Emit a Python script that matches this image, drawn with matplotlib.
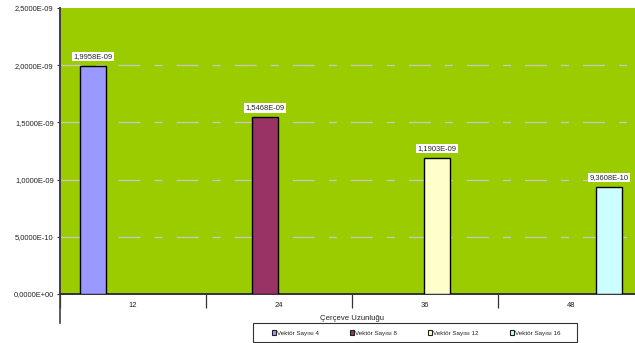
import matplotlib
matplotlib.use('Agg')
import matplotlib.pyplot as plt
from matplotlib.patches import Patch, Rectangle
from matplotlib.lines import Line2D
import numpy as np

# data
categories = ['12', '24', '36', '48']
series_names = ['Vektör Sayısı 4', 'Vektör Sayısı 8', 'Vektör Sayısı 12', 'Vektör Sayısı 16']
series_values = [
    [1.9958e-09, np.nan, np.nan, np.nan],
    [np.nan, 1.5468e-09, np.nan, np.nan],
    [np.nan, np.nan, 1.1903e-09, np.nan],
    [np.nan, np.nan, np.nan, 9.3608e-10],
]
data_labels = ['1,9958E-09', '1,5468E-09', '1,1903E-09', '9,3608E-10']
y_ticks = [0, 5e-10, 1e-09, 1.5e-09, 2e-09, 2.5e-09]
y_ticklabels = ['0,0000E+00', '5,0000E-10', '1,0000E-09', '1,5000E-09', '2,0000E-09', '2,5000E-09']
x_title = 'Çerçeve Uzunluğu'

colors = ['#9999FF', '#993366', '#FFFFCC', '#CCFFFF']

plt.rcParams['font.family'] = ['Liberation Sans', 'DejaVu Sans']
plt.rcParams['lines.scale_dashes'] = False

W, H = 635, 343
fig = plt.figure(figsize=(W / 100, H / 100), dpi=100)
# plot area runs past the right edge of the image
ax = fig.add_axes([60 / W, 1 - 294 / H, 584 / W, 286 / H])
ax.set_facecolor('#9ACC00')

bar_w = 26 / 146
gap = 20 / 146
x = np.arange(len(categories))
for i, vals in enumerate(series_values):
    ax.bar(x + gap + i * bar_w, vals, width=bar_w, align='edge',
           color=colors[i], edgecolor='black', linewidth=1.0, zorder=3)

# data labels above the bars
for i, vals in enumerate(series_values):
    for j, v in enumerate(vals):
        if np.isnan(v):
            continue
        ax.annotate(data_labels[i], (j + gap + (i + 0.5) * bar_w, v),
                    xytext=(0, 4), textcoords='offset points',
                    ha='center', va='bottom', fontsize=5.4, color='#222222',
                    bbox=dict(boxstyle='square,pad=0.15', fc='white', ec='none'),
                    zorder=5)

ax.set_xlim(0, 4)
ax.set_ylim(0, 2.5e-09)

# gridlines
for yt in y_ticks[1:-1]:
    ax.add_line(Line2D([0, 4], [yt, yt], color='#C8C8C8', linewidth=0.9,
                       linestyle=(0, (15.8, 10.1, 5.8, 10.1)), zorder=1))

ax.set_yticks(y_ticks)
ax.set_yticklabels(y_ticklabels)
ax.tick_params(axis='y', direction='out', length=2.5, width=0.8, color='#333333',
               labelsize=5.4, labelcolor='#222222', pad=2)

ax.set_xticks([0, 1, 2, 3, 4])
ax.set_xticklabels([])
ax.set_xticks(x + 0.5, minor=True)
ax.set_xticklabels(categories, minor=True)
ax.tick_params(axis='x', which='major', direction='out', length=10, width=0.9,
               color='#333333')
ax.tick_params(axis='x', which='minor', length=0, labelsize=5.5,
               labelcolor='#222222', pad=6)

for s in ['top', 'right']:
    ax.spines[s].set_visible(False)
ax.spines['bottom'].set_color('#333333')
ax.spines['bottom'].set_linewidth(1.4)
ax.spines['left'].set_color('#404040')
ax.spines['left'].set_linewidth(1.4)
# left axis line continues below the plot area
ax.add_line(Line2D([0, 0], [0, -29 / 286], transform=ax.transAxes,
                   color='#404040', linewidth=1.2, clip_on=False))

fig.text(352 / W, 1 - 318 / H, x_title, ha='center', va='center',
         fontsize=5.6, color='#222222')

# legend: frame drawn separately so entries can keep their natural spacing
fig.patches.append(Rectangle((253 / W, 1 - 342 / H), 324 / W, 19 / H,
                             transform=fig.transFigure, fc='white',
                             ec='#333333', lw=0.8))
handles = [Patch(facecolor=c, edgecolor='#222222', linewidth=0.8) for c in colors]
leg = fig.legend(handles, series_names, loc='center',
                 bbox_to_anchor=(416 / W, 1 - 333 / H),
                 ncol=4, fontsize=4.5, frameon=False,
                 handlelength=0.65, handleheight=0.65,
                 handletextpad=0.15, columnspacing=5.0,
                 borderpad=0, borderaxespad=0)
for t in leg.get_texts():
    t.set_color('#222222')

fig.savefig('out.png', dpi=100)
